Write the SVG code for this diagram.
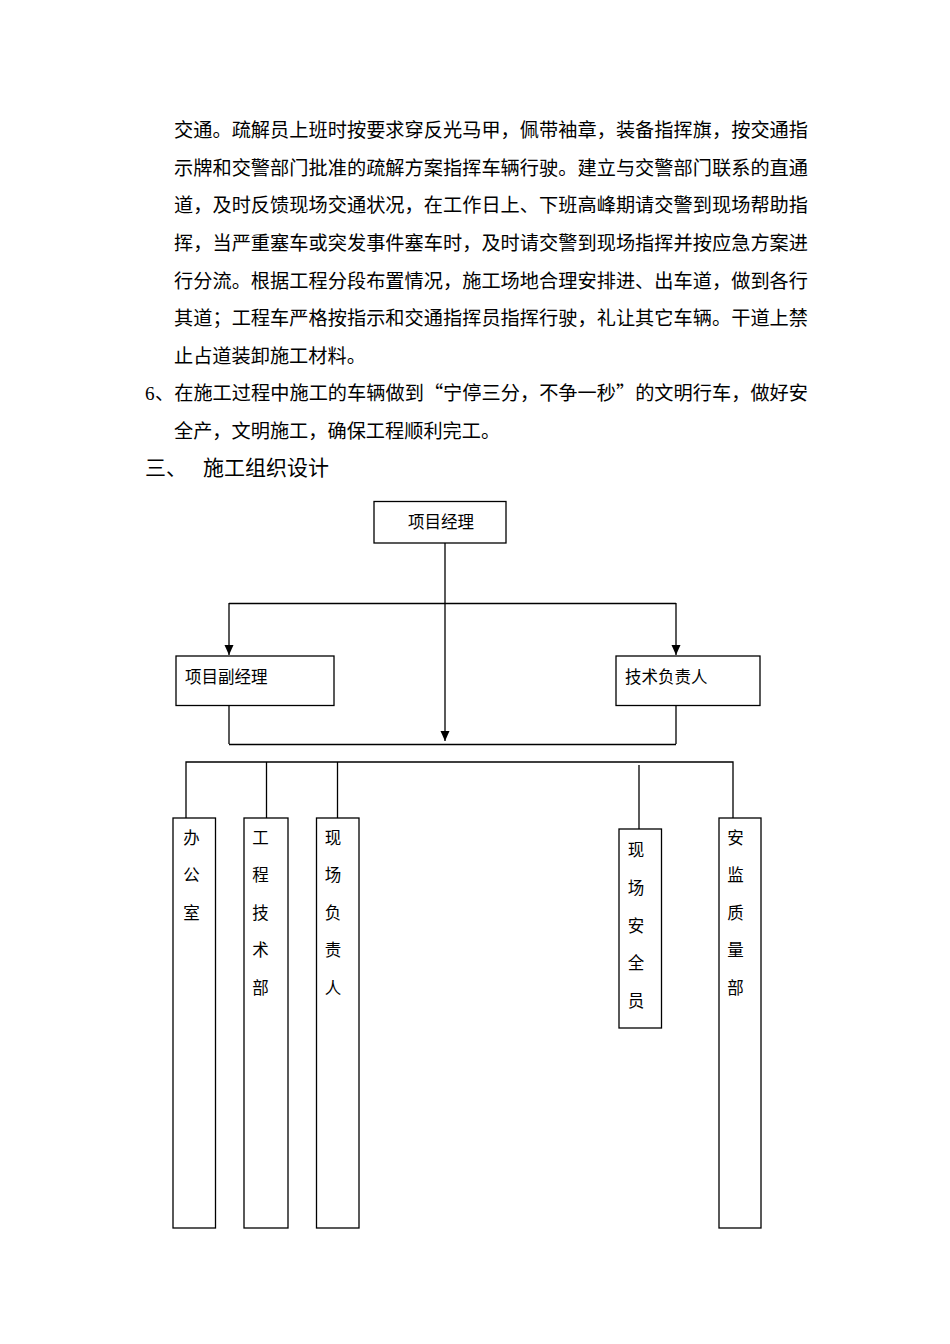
<svg xmlns="http://www.w3.org/2000/svg" width="950" height="1344" viewBox="0 0 950 1344">
<style>
.body{font-family:"Noto Sans CJK SC","Noto Sans",sans-serif;font-size:19.2px;fill:#000;}
.head{font-family:"Noto Sans CJK SC","Noto Sans",sans-serif;font-size:21px;fill:#000;}
.lbl{font-family:"Noto Sans CJK SC","Noto Sans",sans-serif;font-size:16.5px;fill:#000;}
.vl{font-family:"Noto Sans CJK SC","Noto Sans",sans-serif;font-size:16.5px;fill:#000;text-anchor:middle;}
.box{fill:#fff;stroke:#000;stroke-width:1.3;}
.ln{fill:none;stroke:#000;stroke-width:1.3;}
</style>
<defs>
<marker id="arr" markerUnits="userSpaceOnUse" markerWidth="10" markerHeight="10" refX="10" refY="4.5" orient="auto">
<path d="M0,0 L10,4.5 L0,9 z" fill="#000"/>
</marker>
</defs>
<rect width="950" height="1344" fill="#fff"/>
<g id="text">
<text class="body" x="174" y="137" textLength="634" lengthAdjust="spacing">交通。疏解员上班时按要求穿反光马甲，佩带袖章，装备指挥旗，按交通指</text>
<text class="body" x="174" y="175" textLength="634" lengthAdjust="spacing">示牌和交警部门批准的疏解方案指挥车辆行驶。建立与交警部门联系的直通</text>
<text class="body" x="174" y="212" textLength="634" lengthAdjust="spacing">道，及时反馈现场交通状况，在工作日上、下班高峰期请交警到现场帮助指</text>
<text class="body" x="174" y="250" textLength="634" lengthAdjust="spacing">挥，当严重塞车或突发事件塞车时，及时请交警到现场指挥并按应急方案进</text>
<text class="body" x="174" y="288" textLength="634" lengthAdjust="spacing">行分流。根据工程分段布置情况，施工场地合理安排进、出车道，做到各行</text>
<text class="body" x="174" y="325" textLength="634" lengthAdjust="spacing">其道；工程车严格按指示和交通指挥员指挥行驶，礼让其它车辆。干道上禁</text>
<text class="body" x="174" y="363">止占道装卸施工材料。</text>
<text class="body" x="145" y="400"><tspan font-family="Liberation Serif, serif">6</tspan></text>
<text class="body" x="155" y="400" textLength="653" lengthAdjust="spacing">、在施工过程中施工的车辆做到“宁停三分，不争一秒”的文明行车，做好安</text>
<text class="body" x="174" y="438">全产，文明施工，确保工程顺利完工。</text>
<text class="head" x="145" y="475">三、</text>
<text class="head" x="203" y="475">施工组织设计</text>
</g>
<g id="connectors">
<line class="ln" x1="445" y1="543" x2="445" y2="741" marker-end="url(#arr)"/>
<line class="ln" x1="229" y1="603.5" x2="676" y2="603.5"/>
<line class="ln" x1="229" y1="603" x2="229" y2="655" marker-end="url(#arr)"/>
<line class="ln" x1="676" y1="603" x2="676" y2="655" marker-end="url(#arr)"/>
<line class="ln" x1="229" y1="706" x2="229" y2="744"/>
<line class="ln" x1="676" y1="700" x2="676" y2="744"/>
<line class="ln" x1="229" y1="744.5" x2="676" y2="744.5"/>
<polyline class="ln" points="186,818 186,762 733,762 733,818"/>
<line class="ln" x1="266.5" y1="762" x2="266.5" y2="818"/>
<line class="ln" x1="337.5" y1="762" x2="337.5" y2="818"/>
<line class="ln" x1="639" y1="765" x2="639" y2="829"/>
</g>
<g id="n-manager">
<rect class="box" x="374" y="501.5" width="132" height="41.5"/>
<text class="lbl" x="408" y="528">项目经理</text>
</g>
<g id="n-deputy">
<rect class="box" x="176" y="656" width="158" height="49.5"/>
<text class="lbl" x="185" y="683">项目副经理</text>
</g>
<g id="n-tech">
<rect class="box" x="616" y="656" width="144" height="49.5"/>
<text class="lbl" x="625" y="683">技术负责人</text>
</g>
<g id="n-office">
<rect class="box" x="173" y="818" width="42.5" height="410"/>
<text class="vl"><tspan x="191.5" y="844">办</tspan><tspan x="191.5" y="881">公</tspan><tspan x="191.5" y="919">室</tspan></text>
</g>
<g id="n-eng">
<rect class="box" x="244" y="818" width="44" height="410"/>
<text class="vl"><tspan x="260.5" y="844">工</tspan><tspan x="260.5" y="881">程</tspan><tspan x="260.5" y="919">技</tspan><tspan x="260.5" y="956">术</tspan><tspan x="260.5" y="994">部</tspan></text>
</g>
<g id="n-site">
<rect class="box" x="316.5" y="818" width="42.5" height="410"/>
<text class="vl"><tspan x="333" y="844">现</tspan><tspan x="333" y="881">场</tspan><tspan x="333" y="919">负</tspan><tspan x="333" y="956">责</tspan><tspan x="333" y="994">人</tspan></text>
</g>
<g id="n-safety">
<rect class="box" x="619" y="829" width="42.5" height="199"/>
<text class="vl"><tspan x="636" y="856">现</tspan><tspan x="636" y="894">场</tspan><tspan x="636" y="932">安</tspan><tspan x="636" y="969">全</tspan><tspan x="636" y="1007">员</tspan></text>
</g>
<g id="n-quality">
<rect class="box" x="719" y="818" width="42" height="410"/>
<text class="vl"><tspan x="735.5" y="844">安</tspan><tspan x="735.5" y="881">监</tspan><tspan x="735.5" y="919">质</tspan><tspan x="735.5" y="956">量</tspan><tspan x="735.5" y="994">部</tspan></text>
</g>
</svg>
